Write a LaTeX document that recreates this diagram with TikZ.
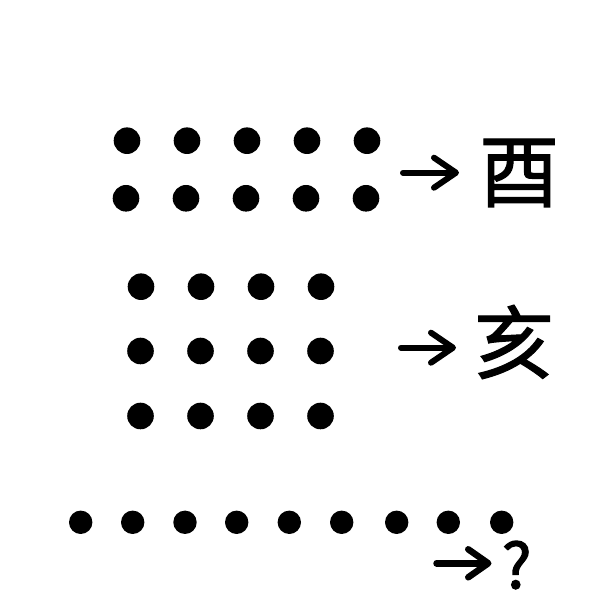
\documentclass[tikz,border=0pt]{standalone}
\usepackage{fontspec}
\newfontfamily\cjk[FakeBold=1.3]{Noto Sans CJK SC}
\newfontfamily\cjkq[FakeBold=2.2]{Noto Sans CJK SC}
\usetikzlibrary{arrows.meta}
\begin{document}
\begin{tikzpicture}[x=1pt,y=1pt,
  dotA/.style={circle,fill=black,inner sep=0pt,minimum size=26.6pt},
  dotB/.style={circle,fill=black,inner sep=0pt,minimum size=23.4pt},
  arr/.style={line width=6pt,line cap=round,
    -{Straight Barb[length=22pt,width=30pt,line cap=round,line join=round]}},
  arrC/.style={line width=6.5pt,line cap=round,
    -{Straight Barb[length=20pt,width=28pt,line cap=round,line join=round]}},
  glyph/.style={inner sep=0pt,font=\cjk\fontsize{80}{80}\selectfont},
  qm/.style={inner sep=0pt,font=\cjkq\fontsize{62}{62}\selectfont}]
\useasboundingbox (0,0) rectangle (613,613);
% row 1
\foreach \x [count=\i] in {127,187,247,307,367}{
  \node[dotA] (a\i) at (\x,613-140.7) {};
  \node[dotA] (b\i) at (\x-1,613-198.3) {};
}
\coordinate (s1) at (403,613-172.7);
\coordinate (e1) at (459,613-172.7);
\draw[arr] (s1) -- (e1);
\node[glyph] (t1) at (519,613-173) {酉};
% row 2
\foreach \x [count=\i] in {141,201,261,321}{
  \node[dotA] (c\i) at (\x,613-286.7) {};
  \node[dotA] (d\i) at (\x-0.5,613-351) {};
  \node[dotA] (f\i) at (\x-0.5,613-416) {};
}
\coordinate (s2) at (401,613-347.7);
\coordinate (e2) at (456,613-347.7);
\draw[arr] (s2) -- (e2);
\node[glyph] (t2) at (514,613-342) {亥};
% row 3
\foreach \x [count=\i] in {80.7,132.7,185,236.7,289.3,341.7,396.7,448.3,501.7}{
  \node[dotB] (g\i) at (\x,613-522.3) {};
}
\coordinate (s3) at (436.5,613-563.3);
\coordinate (e3) at (491.5,613-563.3);
\draw[arrC] (s3) -- (e3);
\node[qm] (t3) at (516.7,613-565) {?};
\end{tikzpicture}
\end{document}
